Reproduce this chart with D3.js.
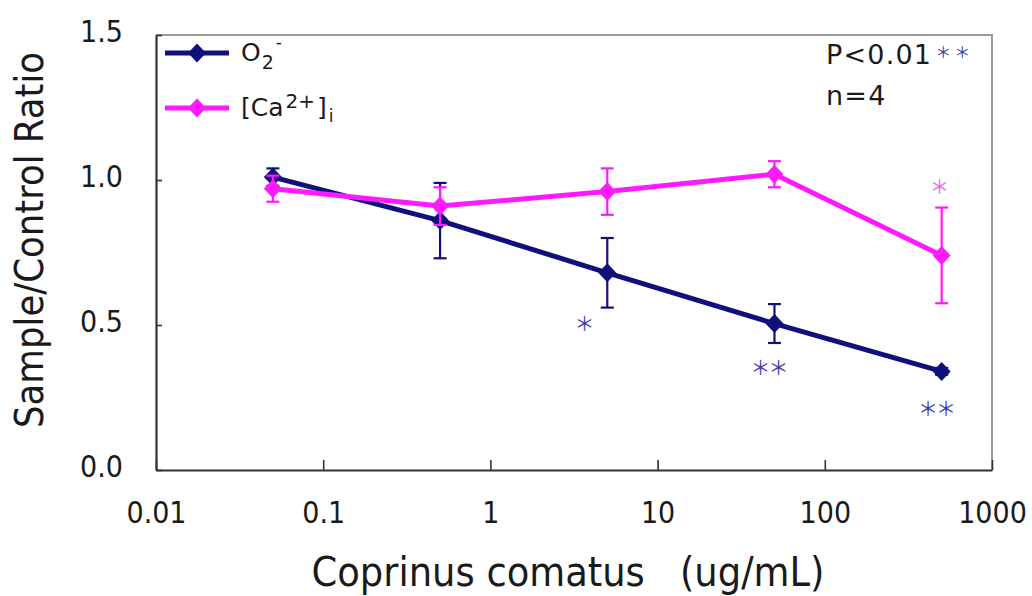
<!DOCTYPE html>
<html>
<head>
<meta charset="utf-8">
<script src="https://cdn.jsdelivr.net/npm/d3@7/dist/d3.min.js"></script>
<style>
  html, body { margin: 0; padding: 0; background: #fff; }
  svg { display: block; font-family: "DejaVu Sans", Verdana, sans-serif; }
  .cond { font-family: "DejaVu Sans Condensed", "DejaVu Sans", sans-serif; font-stretch: condensed; }
</style>
</head>
<body>
<svg id="chart" width="1032" height="596"></svg>
<script>
// Concentrations (ug/mL) and the two measured ratios with their error bars
const concentrations = [0.05, 0.5, 5, 50, 500];
const o2Values = [1.01, 0.86, 0.68, 0.505, 0.34];
const o2Errors = [0.03, 0.13, 0.12, 0.067, 0.012];
const caValues = [0.97, 0.91, 0.96, 1.02, 0.74];
const caErrors = [0.045, 0.065, 0.08, 0.045, 0.165];

// Significance asterisks, placed in data coordinates (concentration, ratio)
const o2Marks = [
  { c: 3.6, r: 0.503, text: "＊" },
  { c: 46, r: 0.352, text: "＊＊" },
  { c: 462, r: 0.21, text: "＊＊" }
];
const caMarks = [
  { c: 478, r: 0.976, text: "＊" }
];

const xTicks = [0.01, 0.1, 1, 10, 100, 1000];
const yTicks = [0, 0.5, 1.0, 1.5];

const svg = d3.select("#chart");
const plot = { left: 156, right: 992, top: 35, bottom: 470 };

const x = d3.scaleLog().domain([0.01, 1000]).range([plot.left, plot.right]);
const y = d3.scaleLinear().domain([0, 1.5]).range([plot.bottom, plot.top]);

const navy = "#10107c";
const magenta = "#ff19ff";
const ink = "#1a1a1a";

// Plot frame: light grey on top and right
svg.append("path")
  .attr("d", `M${plot.left},${plot.top}H${plot.right}V${plot.bottom}`)
  .attr("fill", "none").attr("stroke", "#9a9a9a").attr("stroke-width", 2);

// Axes
const xAxis = d3.axisBottom(x).tickValues(xTicks).tickSizeInner(-10).tickSizeOuter(0)
  .tickFormat(d => d >= 1 ? d3.format("d")(d) : String(d));
const yAxis = d3.axisLeft(y).tickValues(yTicks).tickSizeInner(-6).tickSizeOuter(0)
  .tickFormat(d3.format(".1f"));

const gx = svg.append("g").attr("transform", `translate(0,${plot.bottom})`).call(xAxis);
const gy = svg.append("g").attr("transform", `translate(${plot.left},0)`).call(yAxis);

[gx, gy].forEach(g => {
  g.attr("font-family", null).attr("font-size", null);
  g.select(".domain").attr("stroke", "#333").attr("stroke-width", 2.2);
  g.selectAll(".tick line").attr("stroke", "#333").attr("stroke-width", 1.6);
  g.selectAll(".tick text").attr("fill", ink).attr("class", "cond")
    .style("font-size", "30px");
});
gx.selectAll(".tick text").attr("y", 53).attr("dy", 0);
gy.selectAll(".tick text").attr("x", -33).attr("dy", "0.22em");

// Axis titles
svg.append("text")
  .attr("class", "cond")
  .attr("x", 568).attr("y", 586).attr("text-anchor", "middle")
  .attr("fill", ink).style("font-size", "41px")
  .attr("xml:space", "preserve")
  .text("Coprinus comatus   (ug/mL)");

svg.append("text")
  .attr("class", "cond")
  .attr("transform", "translate(43,240) rotate(-90)")
  .attr("text-anchor", "middle").attr("fill", ink)
  .style("font-size", "39.5px")
  .text("Sample/Control Ratio");

// Diamond marker, a square turned on its corner
const diamondPath = "M0,-9.5L9,0L0,9.5L-9,0Z";

function drawSeries(values, errors, color) {
  const pts = concentrations.map((c, i) => ({ c, v: values[i], e: errors[i] }));
  const g = svg.append("g");

  g.append("path")
    .datum(pts)
    .attr("fill", "none").attr("stroke", color).attr("stroke-width", 5)
    .attr("stroke-linejoin", "round")
    .attr("d", d3.line().x(d => x(d.c)).y(d => y(d.v)));

  const eb = g.selectAll(".err").data(pts).join("g").attr("class", "err");
  eb.append("line")
    .attr("x1", d => x(d.c)).attr("x2", d => x(d.c))
    .attr("y1", d => y(d.v - d.e)).attr("y2", d => y(d.v + d.e))
    .attr("stroke", color).attr("stroke-width", 2.2);
  [-1, 1].forEach(s => {
    eb.append("line")
      .attr("x1", d => x(d.c) - 6.5).attr("x2", d => x(d.c) + 6.5)
      .attr("y1", d => y(d.v + s * d.e)).attr("y2", d => y(d.v + s * d.e))
      .attr("stroke", color).attr("stroke-width", 2.2);
  });

  g.selectAll(".pt").data(pts).join("path").attr("class", "pt")
    .attr("d", diamondPath)
    .attr("transform", d => `translate(${x(d.c)},${y(d.v)})`)
    .attr("fill", color);
}

drawSeries(o2Values, o2Errors, navy);
drawSeries(caValues, caErrors, magenta);

// Significance asterisks
function drawMarks(marks, color) {
  svg.append("g").selectAll("text").data(marks).join("text")
    .attr("x", d => x(d.c))
    .attr("y", d => y(d.r))
    .attr("dy", "0.36em")
    .attr("text-anchor", "middle")
    .attr("fill", color)
    .style("font-family", "'Noto Sans CJK JP', sans-serif")
    .style("font-size", "20px")
    .style("letter-spacing", "-2px")
    .text(d => d.text);
}
drawMarks(o2Marks, "#4040a8");
drawMarks(caMarks, "#ee66ee");

// Legend
const legend = [
  { color: navy, y: 53, kind: "o2" },
  { color: magenta, y: 108, kind: "ca" }
];
const lg = svg.append("g");
legend.forEach(item => {
  lg.append("line").attr("x1", 165).attr("x2", 229).attr("y1", item.y).attr("y2", item.y)
    .attr("stroke", item.color).attr("stroke-width", 5);
  lg.append("path").attr("d", diamondPath).attr("transform", `translate(197,${item.y})`)
    .attr("fill", item.color);
  const t = lg.append("text").attr("x", 241).attr("y", item.y + 8)
    .attr("fill", ink).style("font-size", "25px");
  if (item.kind === "o2") {
    t.append("tspan").text("O");
    t.append("tspan").attr("dx", 1).attr("dy", 8).style("font-size", "19px").text("2");
    t.append("tspan").attr("dx", 2).attr("dy", -21).style("font-size", "17px").text("-");
  } else {
    t.append("tspan").text("[Ca");
    t.append("tspan").attr("dx", 2).attr("dy", -8).style("font-size", "20px").text("2+");
    t.append("tspan").attr("dx", 2).attr("dy", 8).text("]");
    t.append("tspan").attr("dx", 2).attr("dy", 6).style("font-size", "17px").text("i");
  }
});

// Statistics note
const note = svg.append("text").attr("x", 826).attr("y", 64)
  .attr("fill", ink).style("font-size", "27px").style("letter-spacing", "1.2px");
note.append("tspan").text("P<0.01");
note.append("tspan").attr("dx", 3).attr("dy", -6)
  .attr("fill", "#4040a8").style("font-size", "16px").style("letter-spacing", "3px")
  .style("font-family", "'Noto Sans CJK JP', sans-serif").text("＊＊");
svg.append("text").attr("x", 826).attr("y", 105)
  .attr("fill", ink).style("font-size", "27px").style("letter-spacing", "1.2px").text("n=4");
</script>
</body>
</html>
